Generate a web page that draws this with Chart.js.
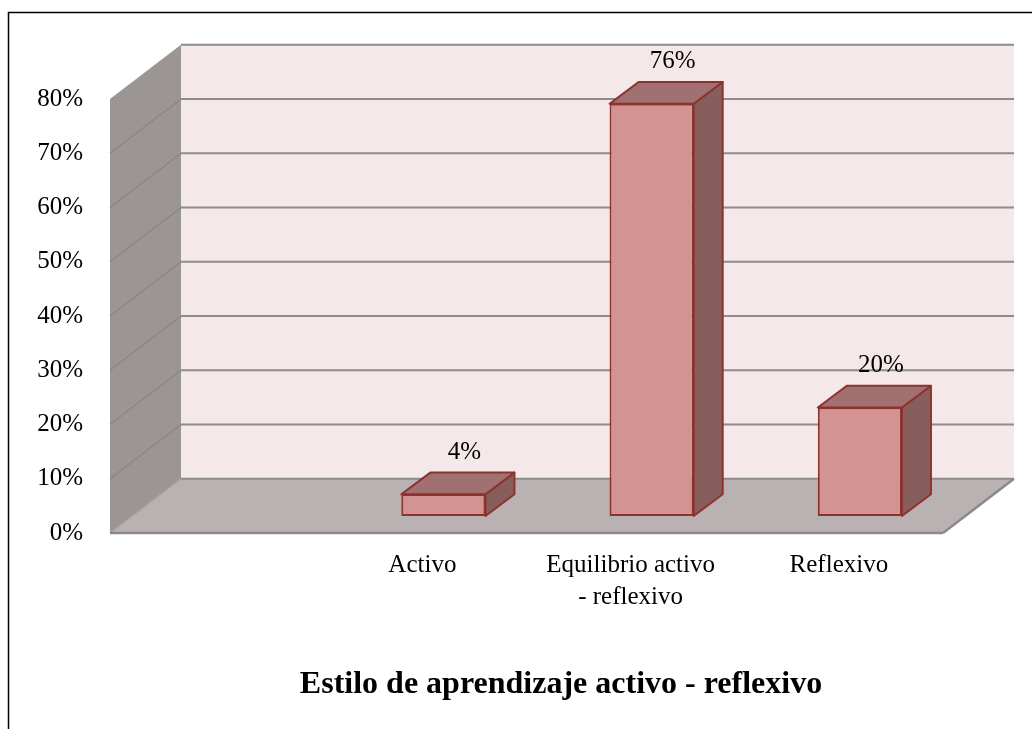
<!DOCTYPE html>
<html lang="es">
<head>
<meta charset="UTF-8">
<title>Estilo de aprendizaje activo - reflexivo</title>
<script src="https://cdn.jsdelivr.net/npm/chart.js@4.4.0/dist/chart.umd.min.js"></script>
<style>
  html, body { margin: 0; padding: 0; background: #fff; }
  #wrap { width: 1032px; height: 729px; }
</style>
</head>
<body>
<div id="wrap"><canvas id="grafico" width="1032" height="729"></canvas></div>
<script>
// Datos
const categorias = ['', 'Activo', ['Equilibrio activo', '- reflexivo'], 'Reflexivo'];
const porcentajes = [null, 4, 76, 20];
const ticksY = [0, 10, 20, 30, 40, 50, 60, 70, 80];
const titulo = 'Estilo de aprendizaje activo - reflexivo';

const FUENTE = '"Liberation Serif", "Times New Roman", serif';
// desplazamientos de la vista 3D
const PROF = { dx: 71, dy: -54.25 };        // fondo del piso
const FRENTE_BARRA = { dx: 21, dy: -17 };   // cara frontal de las barras
const FONDO_BARRA = { dx: 29, dy: -21.7 };  // espesor de las barras

function poligono(ctx, pts) {
    ctx.beginPath();
    ctx.moveTo(pts[0][0], pts[0][1]);
    for (let i = 1; i < pts.length; i++) ctx.lineTo(pts[i][0], pts[i][1]);
    ctx.closePath();
}

function linea(ctx, x1, y1, x2, y2) {
    ctx.beginPath();
    ctx.moveTo(x1, y1);
    ctx.lineTo(x2, y2);
    ctx.stroke();
}

const vista3d = {
    id: 'vista3d',
    beforeDraw(chart) {
        const ctx = chart.ctx;
        ctx.save();
        ctx.strokeStyle = '#000';
        ctx.lineWidth = 1.5;
        ctx.beginPath();
        ctx.moveTo(8.5, 729);
        ctx.lineTo(8.5, 12.5);
        ctx.lineTo(1032, 12.5);
        ctx.stroke();
        ctx.restore();
    },
    beforeDatasetsDraw(chart) {
        const { ctx, chartArea: a, scales: { y } } = chart;
        const L = a.left, R = a.right;
        const T = y.getPixelForValue(80), B = y.getPixelForValue(0);
        const dx = PROF.dx, dy = PROF.dy;

        ctx.save();
        // pared del fondo
        ctx.fillStyle = '#f4e8e8';
        ctx.fillRect(L + dx, T + dy, R - L, B - T);
        // pared lateral
        ctx.fillStyle = '#9b9594';
        poligono(ctx, [[L, T], [L + dx, T + dy], [L + dx, B + dy], [L, B]]);
        ctx.fill();
        // piso
        ctx.fillStyle = '#b9b1b2';
        poligono(ctx, [[L, B], [R, B], [R + dx, B + dy], [L + dx, B + dy]]);
        ctx.fill();

        // lineas de division
        ticksY.forEach(v => {
            const yy = y.getPixelForValue(v);
            ctx.strokeStyle = '#8c8c8c';
            ctx.lineWidth = 2;
            linea(ctx, L + dx, yy + dy, R + dx, yy + dy);
            ctx.strokeStyle = v === 0 ? '#a8a2a2' : '#8a8686';
            ctx.lineWidth = 1.2;
            if (v < 80) linea(ctx, L, yy, L + dx, yy + dy);
        });
        // bordes del piso
        ctx.strokeStyle = '#8a8a8a';
        ctx.lineWidth = 2.5;
        linea(ctx, L, B, R, B);
        linea(ctx, R, B, R + dx, B + dy);
        ctx.restore();

        // caras superior y lateral de las barras
        const meta = chart.getDatasetMeta(0);
        ctx.save();
        ctx.translate(FRENTE_BARRA.dx, FRENTE_BARRA.dy);
        ctx.lineWidth = 2;
        ctx.strokeStyle = '#8c322f';
        ctx.lineJoin = 'round';
        meta.data.forEach((el, i) => {
            if (porcentajes[i] == null) return;
            const p = el.getProps(['x', 'y', 'base', 'width'], true);
            const l = p.x - p.width / 2, r = p.x + p.width / 2;
            const ex = FONDO_BARRA.dx, ey = FONDO_BARRA.dy;
            ctx.fillStyle = '#875e5c';
            poligono(ctx, [[r, p.y], [r + ex, p.y + ey], [r + ex, p.base + ey], [r, p.base]]);
            ctx.fill();
            ctx.stroke();
            ctx.fillStyle = '#a07170';
            poligono(ctx, [[l, p.y], [r, p.y], [r + ex, p.y + ey], [l + ex, p.y + ey]]);
            ctx.fill();
            ctx.stroke();
        });
        // la cara frontal la dibuja Chart.js con este desplazamiento
    },
    afterDatasetsDraw(chart) {
        const ctx = chart.ctx;
        ctx.restore();

        // etiquetas de datos
        const meta = chart.getDatasetMeta(0);
        ctx.save();
        ctx.font = '25px ' + FUENTE;
        ctx.fillStyle = '#000';
        ctx.textAlign = 'center';
        ctx.textBaseline = 'middle';
        meta.data.forEach((el, i) => {
            if (porcentajes[i] == null) return;
            const p = el.getProps(['x', 'y'], true);
            ctx.fillText(porcentajes[i] + '%', p.x + FRENTE_BARRA.dx + 21, p.y + FRENTE_BARRA.dy - 42);
        });

        // titulo
        ctx.font = 'bold 32px ' + FUENTE;
        ctx.fillText(titulo, 561, 685);
        ctx.restore();
    }
};

new Chart(document.getElementById('grafico'), {
    type: 'bar',
    data: {
        labels: categorias,
        datasets: [{
            data: porcentajes,
            backgroundColor: '#d49393',
            borderColor: '#8c322f',
            borderWidth: 2,
            borderSkipped: false,
            categoryPercentage: 1,
            barPercentage: 0.404,
            clip: false
        }]
    },
    options: {
        responsive: false,
        animation: false,
        layout: { padding: { top: 99, right: 89, bottom: 0, left: 0 } },
        plugins: {
            legend: { display: false },
            tooltip: { enabled: false },
            title: { display: false }
        },
        scales: {
            x: {
                grid: { display: false, drawTicks: false },
                border: { display: false },
                afterFit: s => { s.height = 196; },
                ticks: {
                    color: '#000',
                    font: { family: FUENTE, size: 25, lineHeight: 1.26 },
                    padding: 17,
                    maxRotation: 0,
                    autoSkip: false
                }
            },
            y: {
                min: 0,
                max: 80,
                grid: { display: false, drawTicks: false },
                border: { display: false },
                afterFit: s => { s.width = 110; },
                afterBuildTicks: s => { s.ticks = ticksY.map(v => ({ value: v })); },
                ticks: {
                    color: '#000',
                    font: { family: FUENTE, size: 25 },
                    padding: 27,
                    callback: v => v + '%'
                }
            }
        }
    },
    plugins: [vista3d]
});
</script>
</body>
</html>
